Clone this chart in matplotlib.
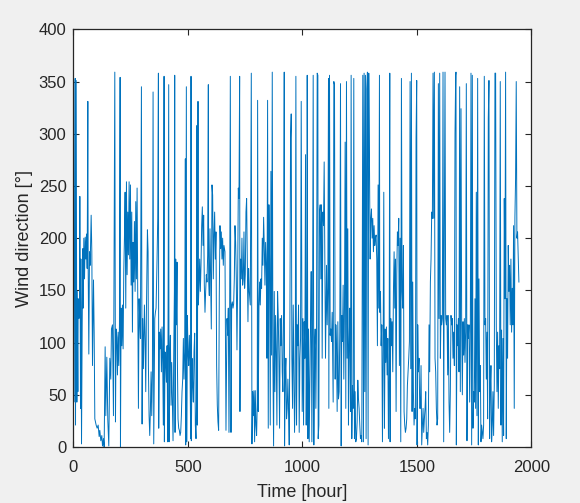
import numpy as np
import matplotlib.pyplot as plt

# wind direction record in six stretches of time
h1 = [0, 1.6, 4.5, 7.4, 8.9, 11.8, 14.7, 16.2, 19.1, 20.5, 23.4, 26.3, 27.8, 30.7, 32.2, 35.1,
      38, 40.9, 42.3, 45.2, 48.2, 51.1, 54, 56.9, 59.8, 62.7, 64.1, 67, 70, 72.9, 77.2, 80.1,
      83, 87.4, 90.3, 93.2, 99, 103.4, 107.8, 112.1, 115, 119.4, 123.8, 126.7, 131, 134,
      138.3, 141.2, 145.6, 149.9, 154.3, 158.7, 163, 165.9, 170.3, 174.6, 180.5, 183.4, 186.3,
      189.2, 192.1, 195, 197.9, 200.8, 203.7, 205.2, 208.1, 211, 213.9, 216.8, 219.7, 222.6,
      225.5, 228.4, 231.4, 234.3, 237.2, 240.1, 243, 245.9, 248.8, 251.7, 254.6, 257.5, 260.4,
      263.3, 266.2, 269.2, 272.1, 275, 277.9, 280.8, 283.7, 286.6, 289.5, 292.4, 296.8, 299.7,
      302.6, 305.5, 309.9, 312.8, 315.7, 318.6, 323, 325.9]
d1 = [149, 43, 161, 353, 21, 351, 43, 149, 53, 142, 123, 129, 240, 37, 180, 3,
      117, 190, 133, 200, 161, 201, 180, 204, 171, 331, 174, 89, 187, 174, 222, 187,
      78, 160, 110, 27, 21, 18, 21, 10, 16, 6, 11, 1, 8, 0,
      96, 30, 86, 26, 1, 85, 65, 113, 117, 30, 359, 24, 113,
      105, 69, 110, 78, 117, 354, 0, 133, 97, 136, 94, 168, 200,
      244, 133, 254, 165, 225, 184, 254, 180, 251, 155, 225, 110, 196,
      158, 216, 149, 235, 161, 248, 149, 37, 142, 120, 104, 345, 22,
      123, 75, 136, 104, 53, 129, 208, 187]

h2 = [327.3, 330.2, 333.2, 336, 339, 341.9, 344.8, 347.7, 350.6, 355, 357.9, 360.8, 365.1,
      368.1, 371, 372.4, 375.3, 378.2, 381.1, 384.1, 387, 389.9, 392.8, 395.7, 397.1, 400,
      403, 405.9, 408.8, 411.7, 416, 417.5, 420.4, 423.3, 426.2, 429.1, 432, 434.9, 437.8,
      440.8, 442.2, 443.7, 446.6, 449.5, 452.4, 453.8, 456.7, 459.7, 462.6, 465.5, 468.4,
      471.3, 474.2, 477.1, 480, 482.9, 485.8, 488.7, 490.2, 493.1, 494.6, 497.5, 500.4,
      503.3, 506.2, 509.1, 512, 513.5, 514.9, 517.8, 520.7, 523.6, 526.5, 529.5, 532.4,
      535.3, 538.2, 539.6, 541.1, 544, 545.4, 548.4, 551.3, 554.2, 557.1, 560, 562.9, 565.8,
      568.7, 571.6, 574.5, 577.4, 580.3, 583.2, 586.2, 589.1, 590.5, 593.4, 596.3, 599.2,
      602.1, 605.1, 608, 610.9, 613.8, 616.7, 619.6, 622.5, 625.4, 628.3, 631.2, 634.1, 637,
      640, 642.9, 645.8, 648.7, 651.6, 654.5, 657.4, 661.8]
d2 = [78, 30, 11, 35, 72, 30, 69, 340, 3, 123, 129, 133, 180,
      219, 358, 18, 110, 94, 113, 72, 115, 78, 21, 355, 5, 91,
      81, 62, 97, 5, 347, 5, 88, 107, 40, 81, 43, 6, 85,
      149, 356, 14, 180, 117, 177, 85, 27, 18, 16, 11, 14,
      30, 53, 65, 104, 65, 91, 276, 2, 345, 5, 126, 91,
      78, 107, 78, 8, 355, 6, 85, 59, 43, 91, 109, 21,
      8, 53, 308, 21, 331, 136, 155, 180, 149, 174, 212, 230, 193,
      222, 155, 129, 149, 165, 158, 184, 347, 161, 145, 209, 161,
      113, 251, 241, 161, 203, 225, 180, 206, 78, 40, 24, 16, 145,
      212, 190, 206, 180, 200, 174, 193, 187]

h3 = [666.2, 670.6, 673.5, 676.4, 679.3, 682.2, 685.2, 688.1, 691, 693.9, 696.8, 699.7,
      702.6, 705.5, 708.4, 711.3, 714.2, 717.1, 720.1, 723, 725.9, 727.3, 730.2, 733.1, 736,
      739, 741.9, 744.8, 747.7, 750.6, 753.5, 756.4, 759.3, 762.2, 765.1, 768, 772.4, 776.8,
      779.7, 782.6, 785.5, 788.4, 791.3, 794.2, 797.1, 800, 802.9, 804.4, 807.3, 810.2,
      813.1, 816, 818.9, 821.8, 824.7, 827.6, 830.6, 833.5, 836.4, 839.3, 842.2, 845.1, 848,
      850.9, 853.8, 856.7, 859.6, 862.5, 865.4, 868.4, 871.3, 874.2, 877.1, 880, 882.9,
      885.8, 888.7, 891.6, 894.5, 897.4, 900.3, 903.3, 906.2, 909.1, 912, 914.9, 917.8,
      920.7, 922.2, 925.1, 928, 930.9, 933.8, 936.7, 939.6, 942.5, 945.4, 948.3, 951.2,
      954.1, 957.1, 960, 962.9, 965.8, 968.7, 971.6, 974.5, 977.4, 980.3, 983.2, 986.1, 989,
      992, 994.9]
d3 = [16, 123, 107, 133, 14, 117, 355, 14, 136, 139, 133, 137,
      161, 212, 196, 161, 93, 155, 248, 238, 355, 34, 180, 161, 200,
      155, 161, 206, 152, 165, 225, 238, 180, 120, 171, 149, 136, 358,
      3, 53, 30, 54, 5, 54, 21, 11, 43, 332, 34, 133,
      158, 136, 161, 152, 200, 174, 220, 193, 155, 196, 174, 85, 332,
      18, 232, 180, 21, 264, 88, 359, 81, 1, 149, 53, 126,
      91, 21, 149, 126, 85, 18, 123, 97, 126, 72, 53, 129,
      359, 1, 69, 85, 27, 37, 65, 37, 2, 117, 296, 319,
      85, 37, 136, 78, 14, 53, 355, 21, 117, 97, 136, 14, 85,
      104, 331]

h4 = [999.2, 1002.2, 1005.1, 1008, 1010.9, 1013.8, 1016.7, 1019.6, 1021.1, 1024, 1026.9,
      1029.8, 1032.7, 1035.6, 1038.5, 1041.4, 1044.3, 1047.2, 1050.1, 1053, 1056, 1058.9,
      1061.8, 1064.7, 1067.6, 1069, 1072, 1074.8, 1077.8, 1080.7, 1083.6, 1086.5, 1089.4,
      1092.3, 1095.2, 1098.1, 1101, 1105.4, 1108.3, 1111.2, 1114.1, 1115.6, 1118.5, 1121.4,
      1124.3, 1127.2, 1130.1, 1134.5, 1137.4, 1140.3, 1143.2, 1146.1, 1149, 1151.9, 1154.9,
      1157.7, 1160.6, 1163.5, 1166.5, 1169.4, 1172.3, 1175.2, 1178.1, 1181, 1183.9, 1186.8,
      1189.7, 1192.6, 1195.5, 1198.4, 1201.3, 1204.3, 1207.2, 1210.1, 1213, 1215.9, 1218.8,
      1221.7, 1224.6, 1227.5, 1230.4, 1233.3, 1236.2, 1239.2, 1242.1, 1245, 1247.9, 1250.8,
      1253.7, 1256.6, 1259.5, 1263.9, 1266.8, 1269.7, 1272.6, 1275.5, 1278.4, 1281.3,
      1284.2, 1287.1, 1290, 1293, 1295.9, 1298.8, 1301.7, 1304.6, 1307.5, 1310.4, 1313.3,
      1316.2, 1319.1, 1322, 1324.9, 1327.8, 1330.8, 1333.7]
d4 = [34, 123, 21, 120, 85, 280, 21, 117, 356, 8, 113,
      5, 65, 117, 168, 5, 113, 356, 2, 97, 113, 37,
      113, 358, 356, 8, 21, 225, 232, 161, 232, 85, 225,
      212, 273, 180, 85, 174, 117, 152, 353, 37, 356, 107,
      113, 101, 129, 43, 350, 347, 65, 117, 97, 34, 120,
      46, 53, 110, 348, 1, 126, 101, 155, 65, 133, 292,
      37, 350, 85, 209, 21, 97, 133, 34, 356, 8, 59,
      37, 353, 8, 53, 5, 8, 24, 64, 46, 37, 21,
      8, 11, 5, 356, 5, 358, 53, 356, 8, 343,
      359, 2, 358, 276, 180, 219, 228, 200, 219, 187, 212,
      193, 200, 203, 180, 97, 251, 133]

h5 = [1336.7, 1338.1, 1341.1, 1344, 1346.9, 1349.8, 1352.7, 1355.6, 1358.5, 1361.4, 1364.3,
      1367.2, 1370.1, 1373, 1376, 1378.9, 1381.8, 1383.2, 1386.1, 1389, 1392, 1394.9,
      1397.8, 1400.7, 1403.6, 1406.5, 1409.4, 1412.3, 1415.2, 1418.1, 1421, 1423.9, 1426.8,
      1429.8, 1432.7, 1435.6, 1438.5, 1441.4, 1444.3, 1447.2, 1450.1, 1453, 1455.9, 1458.8,
      1461.7, 1464.6, 1467.6, 1470.5, 1473.4, 1476.3, 1479.2, 1482.1, 1485, 1487.9, 1490.8,
      1493.7, 1496.6, 1499.5, 1501, 1503.9, 1506.8, 1509.7, 1512.6, 1515.5, 1518.4, 1521.3,
      1524.3, 1527.2, 1530.1, 1533, 1535.9, 1538.8, 1541.7, 1544.6, 1547.5, 1550.4, 1553.3,
      1556.2, 1559.2, 1562.1, 1565, 1567.9, 1570.8, 1573.7, 1576.6, 1579.5, 1582.4, 1585.3,
      1588.2, 1591.1, 1594.1, 1597, 1599.9, 1602.8, 1605.7, 1608.6, 1611.5, 1614.4, 1617.3,
      1620.2, 1623.1, 1626, 1629, 1631.9, 1634.8, 1637.7, 1640.6, 1643.5, 1646.4, 1649.3,
      1652.2, 1655.1, 1658, 1660.9, 1663.9, 1666.8, 1669.7]
d5 = [356, 129, 149, 97, 117, 5, 85, 244, 18, 113, 81,
      115, 69, 104, 8, 69, 358, 5, 123, 97, 120, 72,
      149, 187, 133, 180, 34, 165, 206, 193, 219, 78, 200,
      5, 353, 149, 133, 193, 34, 21, 14, 18, 27, 59,
      72, 85, 101, 350, 75, 358, 34, 158, 53, 21, 37,
      27, 296, 351, 2, 117, 72, 85, 37, 37, 78, 2,
      21, 37, 14, 27, 37, 53, 8, 14, 2, 21, 117,
      72, 158, 180, 225, 219, 358, 219, 359, 85, 72, 37,
      21, 27, 348, 123, 358, 85, 126, 117, 123, 359, 5,
      209, 359, 123, 117, 126, 69, 126, 43, 14, 53, 126,
      117, 123, 85, 110, 78, 300, 356]

h6 = [1671.1, 1672.6, 1675.5, 1678.4, 1681.3, 1684.2, 1687.1, 1690, 1693, 1695.9, 1698.8,
      1701.7, 1704.6, 1707.5, 1710.4, 1713.3, 1716.2, 1719.1, 1722, 1724.9, 1727.8, 1730.8,
      1733.7, 1736.6, 1739.5, 1742.4, 1745.3, 1748.2, 1751.1, 1754, 1756.9, 1759.8, 1762.7,
      1765.7, 1768.6, 1771.5, 1774.4, 1777.3, 1780.2, 1783.1, 1786, 1788.9, 1791.8, 1794.7,
      1797.6, 1800.6, 1803.5, 1806.4, 1809.3, 1812.2, 1815.1, 1818, 1820.9, 1823.8, 1826.7,
      1829.6, 1832.5, 1835.4, 1838.4, 1841.3, 1844.2, 1847.1, 1850, 1852.9, 1855.8, 1858.7,
      1861.6, 1864.5, 1867.4, 1870.3, 1873.2, 1876.2, 1879.1, 1882, 1884.9, 1887.8, 1890.7,
      1893.6, 1896.5, 1899.4, 1902.3, 1905.2, 1908.1, 1911, 1914, 1916.9, 1919.8, 1922.7,
      1925.6, 1928.5, 1931.4, 1934.3, 1937.2, 1940.1, 1943, 1945.9]
d6 = [359, 2, 117, 97, 123, 72, 345, 53, 324, 117, 50,
      120, 88, 123, 81, 110, 348, 6, 117, 104, 117, 43,
      110, 358, 2, 356, 18, 53, 43, 142, 37, 244, 30,
      353, 2, 161, 53, 78, 5, 21, 14, 8, 21, 355,
      117, 123, 65, 110, 27, 315, 351, 8, 56, 78, 5,
      21, 53, 11, 59, 358, 358, 117, 53, 110, 37, 97,
      75, 350, 21, 112, 5, 104, 11, 238, 142, 359, 8,
      142, 85, 193, 149, 174, 117, 180, 110, 152, 117, 212,
      37, 220, 257, 350, 200, 206, 180, 158]

hours = h1 + h2 + h3 + h4 + h5 + h6
wind_dir = d1 + d2 + d3 + d4 + d5 + d6

plt.rcParams['font.family'] = ['Liberation Sans', 'DejaVu Sans']

fig = plt.figure(figsize=(5.8, 5.03), dpi=100, facecolor='#f0f0f0')
ax = fig.add_axes([0.1267, 0.1113, 0.7893, 0.8304])
ax.plot(hours, wind_dir, color='#0072bd', linewidth=0.7)

ax.set_xlim(0, 2000)
ax.set_ylim(0, 400)
ax.set_xticks([0, 500, 1000, 1500, 2000])
ax.set_yticks(np.arange(0, 401, 50))
ax.tick_params(direction='in', top=True, right=True, length=4, width=0.8,
               labelsize=12, colors='#262626')
ax.tick_params(axis='x', pad=9)
ax.tick_params(axis='y', pad=5)
for s in ax.spines.values():
    s.set_color('#262626')
    s.set_linewidth(0.9)

ax.set_xlabel('Time [hour]', fontsize=13, color='#262626', labelpad=7)
ax.set_ylabel('Wind direction [°]', fontsize=13, color='#262626', labelpad=4)

fig.savefig('out.png', dpi=100, facecolor=fig.get_facecolor())
